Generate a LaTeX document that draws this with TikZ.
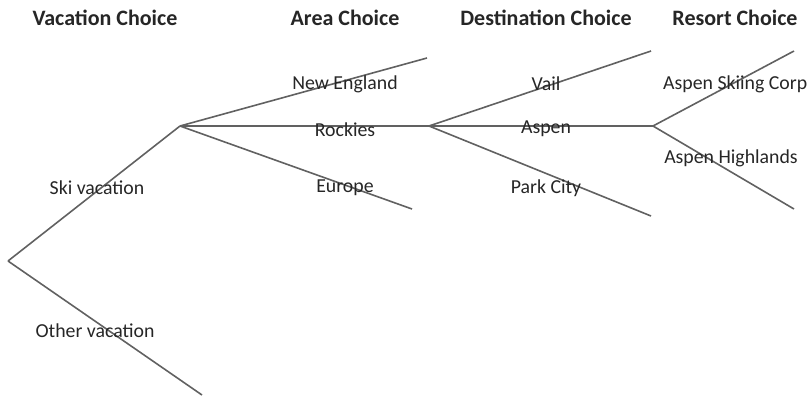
\documentclass[tikz,border=0pt]{standalone}
\usepackage{fontspec}
\setmainfont{Carlito}
\begin{document}
\begin{tikzpicture}[x=1pt,y=-1pt,
  branch/.style={draw=black!62,line width=1.6pt},
  lab/.style={font=\fontsize{19.8}{22}\selectfont,text=black!85,inner sep=0pt},
  head/.style={font=\fontsize{22}{24}\selectfont\bfseries,text=black!85,inner sep=0pt}]
\useasboundingbox (0,0) rectangle (808,397);
% branch points and ends
\coordinate (root) at (8,261);
\coordinate (ski) at (180,126);
\coordinate (other) at (202,395);
\coordinate (ne) at (427,58);
\coordinate (asp) at (429,126);
\coordinate (eu) at (412,209);
\coordinate (vail) at (651,51);
\coordinate (res) at (653,126);
\coordinate (pc) at (651,216);
\coordinate (corp) at (794,51);
\coordinate (high) at (794,209);
% headings
\node[head] (h1) at (105,18) {Vacation Choice};
\node[head] (h2) at (345,18) {Area Choice};
\node[head] (h3) at (546,18) {Destination Choice};
\node[head] (h4) at (735,18) {Resort Choice};
% branches
\draw[branch] (root) -- (ski);
\draw[branch] (root) -- (other);
\draw[branch] (ski) -- (ne);
\draw[branch] (ski) -- (asp);
\draw[branch] (ski) -- (eu);
\draw[branch] (asp) -- (vail);
\draw[branch] (asp) -- (res);
\draw[branch] (asp) -- (pc);
\draw[branch] (res) -- (corp);
\draw[branch] (res) -- (high);
% labels
\node[lab] (l1) at (97,188) {Ski vacation};
\node[lab] (l2) at (95,331) {Other vacation};
\node[lab] (l3) at (345,84) {New England};
\node[lab] (l4) at (345,130) {Rockies};
\node[lab] (l5) at (345,188) {Europe};
\node[lab] (l6) at (546,84) {Vail};
\node[lab] (l7) at (546,129) {Aspen};
\node[lab] (l8) at (546,188) {Park City};
\node[lab,anchor=west] (l9) at (663,84) {Aspen Skiing Corp};
\node[lab] (l10) at (731,158) {Aspen Highlands};
\end{tikzpicture}
\end{document}
